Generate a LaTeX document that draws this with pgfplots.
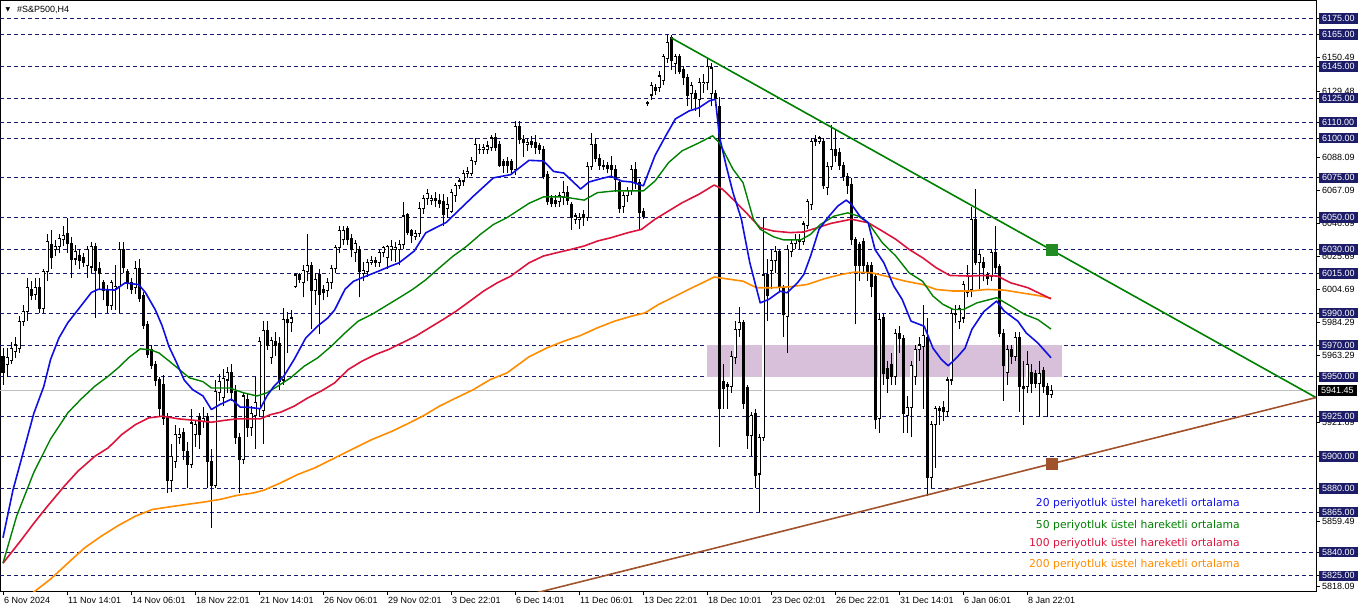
\documentclass[border=0pt]{standalone}
\usepackage{pgfplots}
\pgfplotsset{compat=1.18}
\usepackage{pgfplotstable}
\usepackage{fontspec}
\setmainfont{Liberation Sans}
\newfontfamily\dejavu{DejaVu Sans}

\definecolor{gridnavy}{RGB}{25,25,112}
\definecolor{boxnavy}{RGB}{28,28,105}
\definecolor{ema20c}{RGB}{15,15,225}
\definecolor{ema50c}{RGB}{0,128,0}
\definecolor{ema100c}{RGB}{220,20,60}
\definecolor{ema200c}{RGB}{255,140,0}
\definecolor{trendg}{RGB}{0,128,0}
\definecolor{sqgreen}{RGB}{34,139,34}
\definecolor{sienna}{RGB}{160,82,45}
\definecolor{zone}{RGB}{216,192,218}
\definecolor{lastline}{RGB}{192,192,192}

\newcommand\axfont{\fontsize{9}{10}\selectfont}
\newcommand\legfont{\dejavu\fontsize{10.8}{12}\selectfont}

% H4 bars: index, open, high, low, close
\pgfplotstableread{
i o h l c
0 5963 5968 5945 5953
1 5958 5968 5950 5962
2 5960 5972 5958 5968
3 5966 5975 5962 5970
4 5968 5988 5965 5985
5 5985 5995 5982 5991
6 5991 6012 5985 6006
7 6005 6010 5998 6001
8 6002 6012 5998 6006
9 6006 6012 5990 5993
10 5993 6018 5990 6016
11 6016 6040 6010 6035
12 6033 6042 6018 6025
13 6030 6036 6026 6032
14 6032 6040 6028 6037
15 6036 6045 6032 6039
16 6040 6050 6028 6034
17 6034 6038 6012 6024
18 6024 6033 6020 6029
19 6026 6030 6018 6023
20 6025 6028 6019 6022
21 6020 6032 6012 6030
22 6019 6035 6015 6032
23 6032 6034 5987 6017
24 6018 6022 6005 6015
25 6009 6011 5998 6004
26 6004 6008 5990 5995
27 5995 6011 5992 6009
28 6006 6020 5992 6007
29 6007 6035 5990 6030
30 6030 6035 6015 6019
31 6016 6018 6005 6009
32 6009 6012 6002 6005
33 6006 6023 6002 6018
34 6018 6024 5997 5999
35 6001 6003 5980 5982
36 5983 5985 5962 5964
37 5967 5970 5955 5957
38 5958 5960 5944 5948
39 5948 5950 5925 5930
40 5945 5951 5920 5924
41 5925 5927 5877 5885
42 5885 5908 5878 5900
43 5897 5920 5893 5914
44 5912 5918 5908 5914
45 5915 5918 5898 5904
46 5903 5909 5880 5895
47 5895 5930 5893 5921
48 5914 5922 5906 5920
49 5925 5927 5905 5914
50 5922 5931 5918 5924
51 5925 5927 5880 5897
52 5897 5905 5855 5882
53 5882 5948 5880 5941
54 5940 5952 5935 5947
55 5937 5955 5932 5949
56 5948 5956 5940 5953
57 5953 5958 5935 5940
58 5941 5945 5908 5912
59 5912 5915 5877 5898
60 5898 5940 5895 5938
61 5936 5940 5912 5918
62 5918 5932 5913 5927
63 5926 5950 5905 5934
64 5930 5975 5925 5972
65 5929 5985 5908 5979
66 5979 5985 5967 5970
67 5962 5975 5958 5973
68 5972 5978 5963 5970
69 5971 5975 5942 5947
70 5948 5993 5945 5986
71 5986 5991 5965 5984
72 5984 5992 5978 5987
73 6007 6015 6006 6014
74 6014 6015 6009 6011
75 6009 6020 6000 6017
76 6016 6040 6010 6020
77 6020 6022 5980 6004
78 6004 6015 5995 6011
79 6014 6018 5977 6002
80 6005 6008 5998 6003
81 6004 6012 6000 6009
82 6009 6020 6005 6018
83 6018 6033 6015 6031
84 6031 6045 6028 6042
85 6036 6045 6033 6042
86 6043 6045 6033 6036
87 6037 6040 6025 6030
88 6028 6036 6022 6034
89 6030 6032 6000 6016
90 6015 6022 6010 6017
91 6016 6024 6013 6022
92 6022 6026 6020 6023
93 6023 6025 6019 6022
94 6022 6030 6019 6028
95 6028 6032 6025 6031
96 6025 6033 6018 6032
97 6030 6036 6023 6032
98 6030 6035 6022 6031
99 6030 6036 6020 6033
100 6033 6060 6030 6051
101 6052 6053 6039 6041
102 6042 6043 6034 6039
103 6038 6042 6036 6040
104 6040 6060 6038 6056
105 6056 6064 6052 6062
106 6062 6068 6058 6065
107 6061 6064 6058 6062
108 6062 6066 6057 6061
109 6061 6065 6056 6059
110 6060 6065 6045 6052
111 6056 6063 6050 6058
112 6054 6068 6053 6066
113 6064 6072 6060 6070
114 6070 6075 6068 6073
115 6073 6080 6070 6078
116 6078 6082 6075 6079
117 6078 6088 6076 6086
118 6085 6100 6083 6096
119 6093 6096 6090 6093
120 6093 6096 6090 6094
121 6093 6098 6090 6095
122 6094 6102 6092 6100
123 6100 6103 6092 6094
124 6096 6098 6082 6083
125 6085 6087 6078 6083
126 6085 6088 6078 6083
127 6085 6087 6078 6080
128 6080 6111 6077 6107
129 6107 6111 6096 6099
130 6099 6102 6088 6097
131 6096 6100 6092 6097
132 6098 6101 6094 6096
133 6097 6102 6090 6094
134 6095 6097 6090 6093
135 6093 6095 6074 6076
136 6077 6079 6058 6060
137 6062 6064 6057 6059
138 6061 6064 6057 6059
139 6060 6066 6057 6064
140 6063 6073 6058 6066
141 6066 6070 6058 6061
142 6058 6060 6042 6050
143 6049 6053 6046 6051
144 6049 6053 6043 6050
145 6052 6055 6045 6050
146 6050 6085 6048 6082
147 6082 6103 6080 6096
148 6096 6100 6085 6087
149 6087 6090 6080 6083
150 6083 6086 6080 6082
151 6083 6085 6078 6081
152 6083 6089 6075 6080
153 6080 6083 6066 6074
154 6072 6074 6053 6056
155 6057 6066 6053 6064
156 6064 6069 6060 6067
157 6067 6083 6064 6080
158 6080 6085 6068 6072
159 6072 6074 6043 6053
160 6054 6056 6049 6051
161 6122 6123 6120 6122
162 6127 6135 6124 6133
163 6132 6134 6127 6130
164 6132 6142 6129 6139
165 6136 6153 6133 6151
166 6150 6165 6147 6160
167 6163 6165 6143 6149
168 6147 6153 6140 6151
169 6151 6153 6140 6142
170 6143 6145 6133 6138
171 6138 6140 6120 6127
172 6128 6135 6118 6133
173 6128 6130 6117 6125
174 6124 6138 6113 6135
175 6134 6140 6128 6135
176 6135 6150 6130 6145
177 6128 6147 6120 6144
178 6128 6130 6120 6125
179 6120 6126 5906 5930
180 5947 5958 5930 5943
181 5945 5947 5930 5944
182 5944 5966 5940 5963
183 5962 5985 5958 5980
184 5980 5994 5975 5984
185 5984 5986 5930 5933
186 5943 5945 5905 5913
187 5913 5928 5900 5926
188 5927 5930 5880 5888
189 5889 5914 5865 5912
190 5912 6050 5910 6014
191 6014 6024 5985 6001
192 6017 6030 6005 6023
193 6023 6032 6015 6029
194 6029 6030 6003 6006
195 6006 6008 5975 5989
196 5988 6033 5965 6030
197 6029 6036 6025 6034
198 6034 6040 6030 6036
199 6036 6040 6030 6035
200 6035 6048 6033 6046
201 6045 6062 6043 6060
202 6058 6100 6055 6098
203 6099 6102 6095 6098
204 6098 6101 6096 6100
205 6098 6100 6068 6070
206 6069 6085 6064 6082
207 6082 6108 6080 6093
208 6093 6105 6085 6089
209 6091 6094 6080 6083
210 6083 6085 6073 6076
211 6076 6078 6065 6070
212 6071 6075 6033 6036
213 6036 6038 5983 6020
214 6033 6035 6010 6020
215 6035 6037 6015 6020
216 6020 6022 6010 6016
217 6020 6022 6000 6007
218 6013 6015 5917 5923
219 5924 5990 5915 5986
220 5987 5990 5945 5952
221 5955 5960 5940 5949
222 5958 5965 5945 5950
223 5950 5980 5945 5977
224 5977 5982 5965 5974
225 5974 5976 5915 5927
226 5926 5938 5915 5931
227 5931 5960 5912 5957
228 5950 5970 5945 5967
229 5967 5975 5960 5970
230 5969 5995 5930 5976
231 5975 5987 5875 5887
232 5887 5922 5880 5920
233 5920 5932 5893 5930
234 5930 5932 5920 5929
235 5931 5935 5922 5928
236 5928 5950 5925 5948
237 5948 5993 5945 5990
238 5990 5995 5984 5989
239 5985 5995 5980 5993
240 5987 6010 5984 6008
241 6003 6020 6000 6013
242 6005 6057 6000 6049
243 6049 6068 6020 6022
244 6022 6030 6005 6027
245 6022 6025 6010 6019
246 6014 6016 6008 6012
247 6013 6030 6010 6028
248 6028 6045 6015 6019
249 6019 6021 5975 5977
250 5977 5980 5935 5957
251 5953 5970 5945 5967
252 5967 5970 5958 5963
253 5963 5978 5960 5975
254 5975 5978 5928 5944
255 5944 5960 5920 5943
256 5944 5966 5940 5958
257 5953 5958 5940 5946
258 5952 5954 5943 5946
259 5946 5960 5925 5952
260 5954 5956 5940 5944
261 5944 5946 5925 5939
262 5939 5945 5937 5941.45
}\candles

\begin{document}
\begin{tikzpicture}
\begin{axis}[
  name=ax, scale only axis, width=1316pt, height=591pt,
  xmin=-0.75, xmax=328.25, ymin=5815.5, ymax=6186.7,
  clip mode=individual,
  axis line style={black, line width=0.9pt},
  tick style={black, line width=0.8pt},
  tick align=outside, major tick length=4pt,
  xtick pos=bottom, ytick pos=right, yticklabel pos=right,
  xtick={0,16,...,256},
  xticklabels={6 Nov 2024, 11 Nov 14:01, 14 Nov 06:01, 18 Nov 22:01, 21 Nov 14:01,
    26 Nov 06:01, 29 Nov 02:01, 3 Dec 22:01, 6 Dec 14:01, 11 Dec 06:01,
    13 Dec 22:01, 18 Dec 10:01, 23 Dec 02:01, 26 Dec 22:01, 31 Dec 14:01,
    6 Jan 06:01, 8 Jan 22:01},
  xticklabel style={anchor=north west, inner sep=0pt, xshift=1pt, yshift=-2pt, font=\axfont},
  ytick={6150.49,6129.48,6088.09,6067.09,6046.09,6025.69,6004.69,5984.29,5963.29,5921.69,5859.49,5818.09},
  yticklabels={6150.49,6129.48,6088.09,6067.09,6046.09,6025.69,6004.69,5984.29,5963.29,5921.69,5859.49,5818.09},
  yticklabel style={anchor=west, inner sep=0pt, xshift=2pt, font=\axfont},
  extra y ticks={6175,6165,6145,6125,6110,6100,6075,6050,6030,6015,5990,5970,5950,5925,5900,5880,5865,5840,5825},
  extra y tick labels={6175.00,6165.00,6145.00,6125.00,6110.00,6100.00,6075.00,6050.00,6030.00,6015.00,5990.00,5970.00,5950.00,5925.00,5900.00,5880.00,5865.00,5840.00,5825.00},
  extra y tick style={grid=major, yticklabel style={fill=boxnavy, text=white, inner xsep=3pt, inner ysep=2pt, xshift=-3pt}},
  major grid style={gridnavy, line width=0.8pt, dash pattern=on 4pt off 3pt},
  error bars/error bar style={line cap=butt},
]

% support / resistance zone
\addplot[fill=zone, draw=none] coordinates {(176,5950) (176,5970) (264.75,5970) (264.75,5950)} -- cycle;
% last price line
\addplot[lastline, line width=0.8pt] coordinates {(-0.75,5941.45) (328.25,5941.45)};

% wicks
\addplot[draw=none, mark=none, error bars/.cd, y dir=plus, y explicit, error mark=none,
  error bar style={draw=black, line width=1pt}]
  table[x=i, y=l, y error plus expr={\thisrow{h}-\thisrow{l}}] {\candles};
% bodies
\addplot[draw=none, mark=none, error bars/.cd, y dir=plus, y explicit, error mark=none,
  error bar style={draw=black, line width=3pt}]
  table[x=i, y expr={min(\thisrow{o},\thisrow{c})-0.35}, y error plus expr={abs(\thisrow{c}-\thisrow{o})+0.7}] {\candles};
% hollow inside of rising bars
\addplot[draw=none, mark=none, error bars/.cd, y dir=plus, y explicit, error mark=none,
  error bar style={draw=white, line width=1.2pt}]
  table[x=i, y expr={\thisrow{o}+0.35}, y error plus expr={max(\thisrow{c}-\thisrow{o}-0.7,0)}] {\candles};

% EMA 200
\addplot[ema200c, line width=1.6pt, line join=round] coordinates {
(7,5813.5) (11.9,5823) (16.2,5833) (20.4,5842.6) (24.6,5850) (28.8,5856.6) (33.1,5862.5) (37.3,5866.7)
(41.5,5868.3) (45.7,5869.8) (50,5871.3) (54.2,5873) (58.4,5875.5) (62.6,5877.1) (65.2,5878.8) (69.4,5883.4)
(73.6,5888.6) (77.9,5892.8) (82.1,5898) (87.1,5904.3) (92.2,5910.6) (97.3,5915.9) (100.7,5920) (104.9,5925.3)
(109.1,5931.6) (113.3,5936.8) (117.6,5942) (121.8,5948.3) (126,5952.5) (131.5,5962.6) (136,5968.2) (140.2,5972.4)
(144.4,5976) (148.6,5980.8) (152.9,5985) (157.1,5988.1) (160.5,5990.2) (163.9,5995.5) (168.1,6000.7) (172.3,6006)
(175.7,6010.1) (177.8,6012.7) (180.8,6011.6) (185,6010.1) (188.4,6006) (192.6,6006) (196.8,6006.6) (201,6008)
(205.3,6011.6) (209.5,6014.3) (212.9,6015.8) (217.1,6015.4) (221.3,6012.9) (225.6,6010.1) (229.9,6008) (233.3,6004.9)
(237.6,6003.9) (241.8,6003.9) (246,6004.9) (250.3,6004.5) (254.5,6002.8) (258.7,6001.1) (262,5999.5)};
% EMA 100
\addplot[ema100c, line width=1.6pt, line join=round] coordinates {
(0,5833) (4.3,5846.7) (7.7,5858) (11.1,5868.7) (15.3,5881.3) (18.7,5890.7) (22.9,5900) (26.3,5905.4)
(29.7,5913.8) (33.1,5920) (36.4,5924.2) (39.8,5925.3) (44,5923.6) (48.3,5922.6) (52.1,5921.5) (55.1,5922.6)
(58.4,5923.6) (64.3,5923.6) (66.9,5926.3) (69.4,5927.8) (72.8,5931.6) (76.2,5936.8) (79.5,5941) (82.9,5946.2)
(86.3,5954.6) (89.7,5959.8) (93.1,5964) (96.4,5967.2) (99.8,5971.4) (103.2,5975.6) (106.6,5980.8) (110,5986)
(113.3,5991.3) (116.7,5997.5) (120.1,6003.8) (123.5,6009) (126.9,6013.2) (131.5,6021.6) (135.1,6025.9) (138.5,6028)
(141.9,6030) (145.3,6032.2) (148.6,6035.3) (152,6037.4) (156.3,6040.6) (159.6,6042.6) (163,6049) (166.4,6054.2)
(169.8,6059.4) (174,6064.7) (177.8,6070.5) (179.9,6067.8) (182.5,6061.5) (185.8,6053.1) (189.3,6043.7) (192.6,6041.6)
(196.8,6040.6) (200.2,6041) (203.6,6043.7) (207,6046.4) (212.1,6049) (216.3,6046.8) (219.8,6041.6) (223.2,6036.4)
(226.5,6030.1) (229.9,6024.8) (233.3,6018.5) (236.7,6013.7) (241.8,6013.3) (245.2,6013.7) (248.6,6013.3) (252,6009)
(256.2,6006) (262,5999)};
% EMA 50
\addplot[ema50c, line width=1.4pt, line join=round] coordinates {
(0,5833) (3.4,5862.5) (7.7,5890) (11.9,5911) (16.2,5927.4) (19.5,5936) (22.9,5944) (26.3,5950.4)
(28.8,5955.7) (31.4,5962) (34.3,5967.6) (36.9,5967) (39,5965) (41.5,5960) (44.1,5954.6) (46.6,5949.4)
(50,5947) (52.1,5943) (56.7,5943) (60.1,5940) (63.5,5938) (66,5940) (68.6,5944) (71.9,5949.4)
(75.3,5956.7) (78.7,5962) (82.1,5969.3) (85.5,5977.6) (88.8,5985) (92.2,5989.2) (95.6,5994.4) (99,5999.6)
(102.4,6004.9) (105.7,6011) (109.1,6018.5) (112.5,6025.8) (115.9,6032) (119.3,6039.4) (122.6,6045.7) (126,6050)
(131.5,6059) (135.1,6063) (140.2,6063) (145.3,6061) (148.6,6065.7) (152.9,6066.8) (157.1,6066.8) (160.1,6066.8)
(163,6073) (166.4,6084.6) (169.8,6092) (174,6097) (177.4,6101.4) (179.1,6097) (182.5,6080.4) (185,6072)
(187.6,6049) (189.3,6042.7) (192.6,6038) (195.2,6036) (199.4,6036) (201.9,6039.5) (204.4,6045.8) (207.8,6051)
(211.2,6053) (213.8,6051) (216.3,6046.8) (219.8,6034.3) (223.2,6025.9) (226.5,6015.4) (229.9,6010) (232.5,6000.7)
(235,5995.5) (237.6,5992.3) (240.1,5992.3) (243.5,5996.5) (248.4,5999.7) (252,5994.4) (255.4,5989.2) (258.7,5986)
(262,5980)};
% EMA 20
\addplot[ema20c, line width=1.6pt, line join=round] coordinates {
(0,5849) (2.5,5879) (5,5902) (7.7,5927) (10.2,5944) (11.9,5961) (14,5974.5) (16.2,5984)
(18.7,5992) (22.1,6003) (23.8,6005) (28,6004.5) (30.5,6009) (33.9,6008) (35.6,6003) (38.1,5992)
(39.8,5982) (41.5,5969) (43.2,5960) (45.3,5948) (47.4,5942) (50,5938) (52.1,5929.5) (54.2,5932.6)
(57.1,5936) (59.3,5931) (61,5931) (64.3,5930) (66,5938) (67.7,5944) (70.2,5950.4) (72.8,5961)
(75.7,5974.5) (78.7,5982) (81.2,5987) (82.9,5992) (85.5,6005) (87.6,6010) (90.5,6013) (93.9,6016.4)
(97.3,6020) (99,6021.6) (102.8,6029) (105.7,6040.5) (110.8,6047) (117.6,6063.5) (122.6,6075) (126.9,6077)
(131.5,6086) (135.1,6085.6) (137.7,6079) (140.2,6078) (142.3,6073) (144.4,6068) (146.5,6072.4) (149.5,6074.5)
(152,6076) (154.6,6073) (157.1,6072.4) (160.1,6070) (163,6089) (165.6,6101) (168.1,6112) (171.5,6117)
(174,6119) (176.6,6123.4) (178.1,6124.4) (179.1,6101) (180.8,6082.5) (182.5,6065.7) (184.6,6049) (186.7,6021.7)
(189.3,5996.5) (191.4,5998.6) (194.3,6003.8) (196,6002.8) (198.6,6009) (200.2,6014.3) (201.9,6025.9) (204,6042.6)
(206.2,6050) (208.7,6057.3) (210.8,6061) (212.1,6058.4) (214.2,6051) (216.3,6046.8) (218,6030) (220.2,6021.7)
(222.7,6007) (224.8,5998.6) (227,5985) (230.3,5981.8) (232.5,5968) (234.6,5960.9) (236.3,5957) (238.4,5962)
(240.5,5968) (242.2,5979.7) (245.2,5991) (248.4,5997.6) (250.3,5991.3) (253.7,5985) (255.8,5977.6) (258.7,5971.3)
(262,5962)};

% trend lines
\addplot[trendg, line width=1.6pt] coordinates {(167,6163) (328.25,5937)};
\addplot[sienna, line width=1.6pt] coordinates {(128,5811) (328.25,5937)};
\addplot[only marks, mark=square*, mark size=5.5pt, sqgreen, mark options={draw=none}] coordinates {(262.25,6030)};
\addplot[only marks, mark=square*, mark size=5.5pt, sienna, mark options={draw=none}] coordinates {(262.25,5895.4)};

% legend texts
\node[anchor=east, text=ema20c, font=\legfont, inner sep=0pt] at (axis cs:309.25,5870.3) {20 periyotluk üstel hareketli ortalama};
\node[anchor=east, text=ema50c, font=\legfont, inner sep=0pt] at (axis cs:309.25,5856.4) {50 periyotluk üstel hareketli ortalama};
\node[anchor=east, text=ema100c, font=\legfont, inner sep=0pt] at (axis cs:309.25,5845.1) {100 periyotluk üstel hareketli ortalama};
\node[anchor=east, text=ema200c, font=\legfont, inner sep=0pt] at (axis cs:309.25,5831.9) {200 periyotluk üstel hareketli ortalama};

% title and current price box
\node[anchor=west, font=\axfont, inner sep=0pt] at (rel axis cs:0,1) [xshift=17pt, yshift=-10pt] {\#S\&P500,H4};
\node[font=\dejavu\fontsize{6}{6}\selectfont, inner sep=0pt] at (rel axis cs:0,1) [xshift=8pt, yshift=-10pt] {▼};
\node[anchor=west, fill=black, text=white, font=\axfont, inner xsep=3pt, inner ysep=2pt] at (axis cs:328.25,5941.45) [xshift=2pt] {5941.45};
\end{axis}
\pgfresetboundingbox
\path[use as bounding box] ([yshift=-20pt]ax.south west) rectangle ([xshift=46pt]ax.north east);
\end{tikzpicture}
\end{document}
